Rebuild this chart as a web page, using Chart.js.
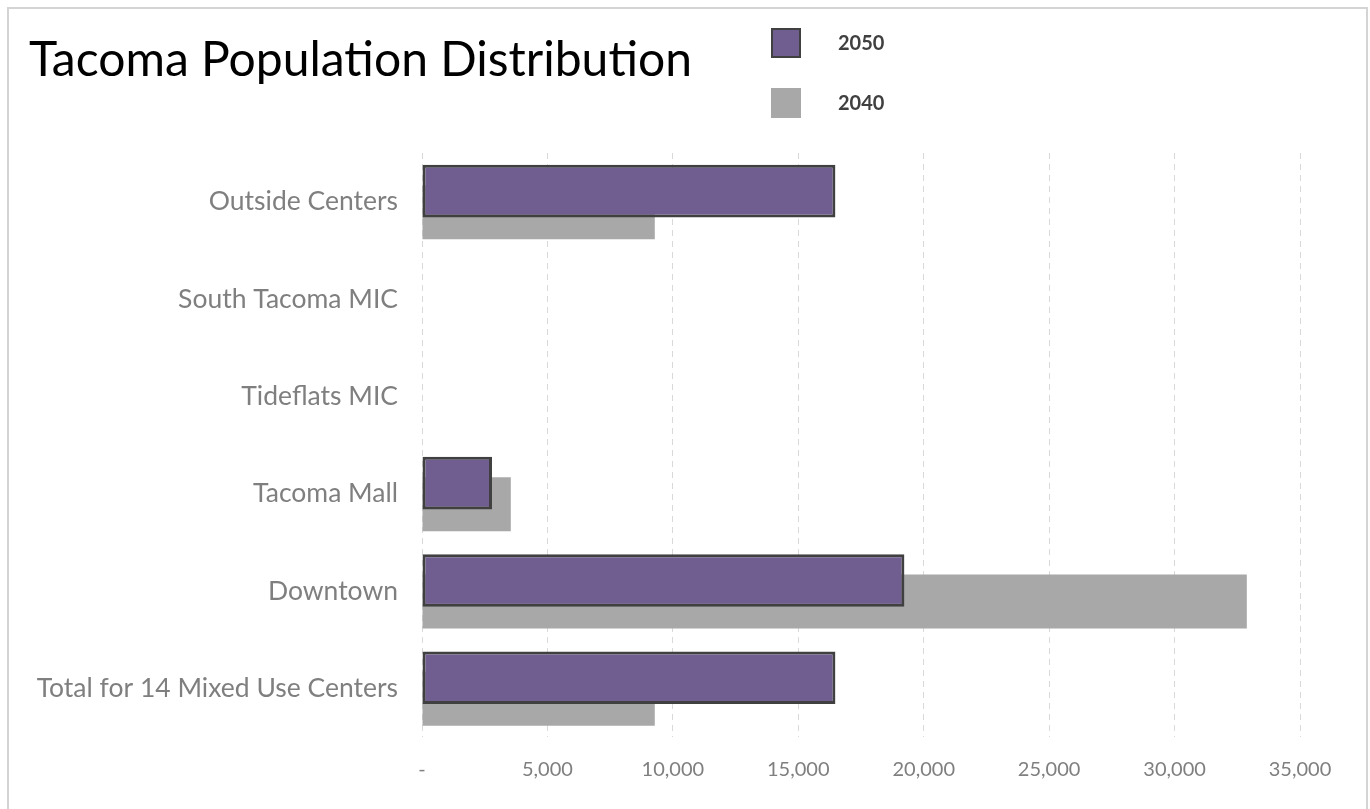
<!DOCTYPE html>
<html>
<head>
<meta charset="utf-8">
<title>Tacoma Population Distribution</title>
<script src="https://cdn.jsdelivr.net/npm/chart.js@4.4.0/dist/chart.umd.min.js"></script>
<style>
    body { margin: 0; background: #ffffff; }
    #frame { position: absolute; left: 7px; top: 7px; width: 1357px; height: 830px; border: 2px solid #d4d4d4; }
    #wrap { position: absolute; left: 0; top: 0; width: 1370px; height: 809px; }
</style>
</head>
<body>
<div id="frame"></div>
<div id="wrap"><canvas id="popChart" width="1370" height="809"></canvas></div>
<script>
const chartTitle = 'Tacoma Population Distribution';
const categories = ['Outside Centers', 'South Tacoma MIC', 'Tideflats MIC', 'Tacoma Mall', 'Downtown', 'Total for 14 Mixed Use Centers'];
const pop2050 = [16480, 0, 0, 2790, 19230, 16480];
const pop2040 = [9280, 0, 0, 3540, 32880, 9280];
const xTicks = [0, 5000, 10000, 15000, 20000, 25000, 30000, 35000];

const labelFont = 'Lato';

// title + legend drawn in the top strip, next to each other
const topStrip = {
    id: 'topStrip',
    afterDraw(chart) {
        const ctx = chart.ctx;
        ctx.save();
        ctx.textAlign = 'left';
        ctx.textBaseline = 'alphabetic';
        ctx.fillStyle = '#000000';
        ctx.font = '48px ' + labelFont;
        ctx.fillText(chartTitle, 29, 76);

        ctx.textBaseline = 'middle';
        chart.data.datasets.forEach((ds, i) => {
            const y = 28 + i * 60;
            ctx.fillStyle = ds.backgroundColor;
            ctx.fillRect(771, y, 30, 30);
            if (ds.borderWidth) {
                ctx.lineWidth = 2;
                ctx.strokeStyle = ds.borderColor;
                ctx.strokeRect(772, y + 1, 28, 28);
            }
            ctx.fillStyle = '#404040';
            ctx.font = 'bold 20px ' + labelFont;
            ctx.fillText(ds.label, 838, y + 16);
        });
        ctx.restore();
    }
};

const ctx = document.getElementById('popChart').getContext('2d');

new Chart(ctx, {
    type: 'bar',
    data: {
        labels: categories,
        datasets: [{
            label: '2050',
            data: pop2050,
            backgroundColor: '#705e91',
            borderColor: '#404040',
            borderWidth: 3,
            borderSkipped: false,
            barPercentage: 2.5,
            categoryPercentage: 0.432
        }, {
            label: '2040',
            data: pop2040,
            backgroundColor: '#a8a8a8',
            borderWidth: 0,
            barPercentage: 2.57,
            categoryPercentage: 0.432
        }]
    },
    options: {
        indexAxis: 'y',
        responsive: false,
        animation: false,
        devicePixelRatio: 1,
        layout: {
            padding: { top: 153, right: 70, bottom: 22, left: 0 }
        },
        scales: {
            x: {
                type: 'linear',
                min: 0,
                max: 35000,
                afterBuildTicks: scale => { scale.ticks = xTicks.map(v => ({ value: v })); },
                afterFit: scale => { scale.height = 50; },
                ticks: {
                    color: '#7f7f7f',
                    padding: 21,
                    maxRotation: 0,
                    font: { family: labelFont, size: 20 },
                    callback: v => v === 0 ? '-' : v.toLocaleString('en-US')
                },
                grid: { color: '#d9d9d9', lineWidth: 1, drawTicks: false },
                border: { display: false, dash: [6, 5] }
            },
            y: {
                afterFit: scale => { scale.width = 422; },
                ticks: {
                    color: '#7f7f7f',
                    padding: 16,
                    font: { family: labelFont, size: 26.5 }
                },
                grid: { display: false },
                border: { display: false }
            }
        },
        plugins: {
            legend: { display: false },
            title: { display: false },
            tooltip: { enabled: false }
        }
    },
    plugins: [topStrip]
});
</script>
</body>
</html>
